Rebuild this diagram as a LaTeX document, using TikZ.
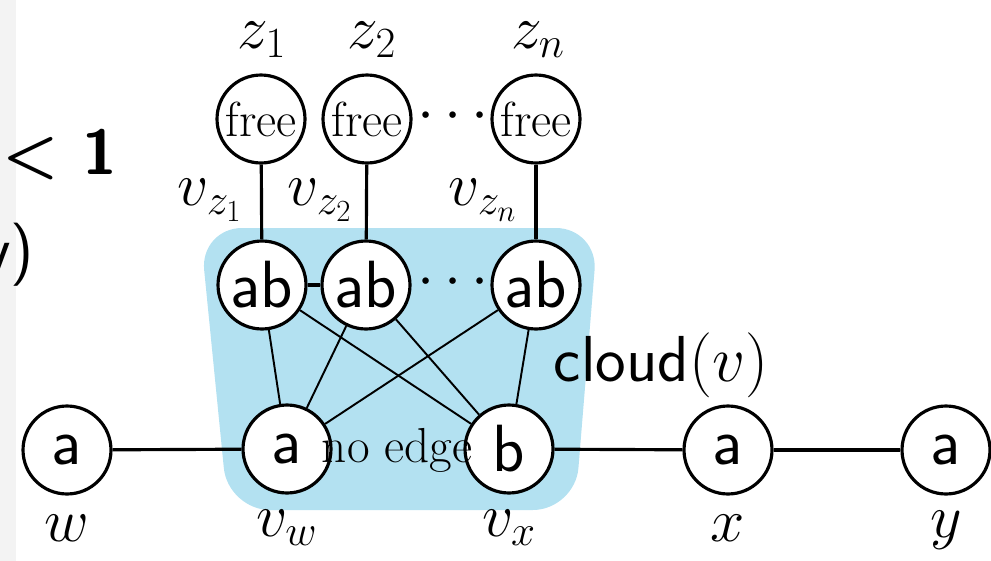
\RequirePackage{fix-cm}
\documentclass[tikz,border=0pt]{standalone}
\usepackage{fontspec}
\usetikzlibrary{positioning}
\definecolor{cloudBlue}{HTML}{B3E1F1}
\definecolor{stripGray}{HTML}{F3F3F3}

\begin{document}
\begin{tikzpicture}[x=0.02cm, y=-0.02cm,
  vtx/.style={draw, circle, fill=white, line width=1.8pt, minimum size=1.76cm,
    inner sep=0pt, font=\fontsize{38}{42}\selectfont\sffamily},
  freev/.style={vtx, font=\fontsize{28}{32}\selectfont},
  lbl/.style={font=\fontsize{35}{38}\selectfont, inner sep=0pt},
  edge/.style={line width=1.8pt},
  cross/.style={line width=1.1pt}]
  \useasboundingbox (0,0) rectangle (991,561);
  \clip (0,0) rectangle (991,561);
  \fill[stripGray] (0,0) rectangle (16,561);
  \node[anchor=east, font=\fontsize{36}{40}\selectfont\sffamily\bfseries] (lt) at (123,155) {< 1};
  \node[anchor=east, font=\fontsize{36}{40}\selectfont\sffamily] (rp) at (40,255) {v)};

  % cloud of v
  \fill[cloudBlue, rounded corners=24pt] (200,228) -- (598,228) -- (575,510) -- (228,510) -- cycle;

  \node[freev] (fz1) at (261,119) {free};
  \node[freev] (fz2) at (367,119) {free};
  \node[freev] (fzn) at (536,119) {free};
  \node[lbl] (dt1) at (453,117) {$\cdots$};
  \node[lbl] (z1) at (262,40) {$z_1$};
  \node[lbl] (z2) at (372,40) {$z_2$};
  \node[lbl] (zn) at (538,40) {$z_n$};

  \node[vtx] (ab1) at (262,285) {ab};
  \node[vtx] (ab2) at (366,285) {ab};
  \node[vtx] (abn) at (536,285) {ab};
  \node[lbl] (dt2) at (453,283) {$\cdots$};
  \node[lbl] (lz1) at (210,200) {$v_{z_1}$};
  \node[lbl] (lz2) at (320,200) {$v_{z_2}$};
  \node[lbl] (lzn) at (483,200) {$v_{z_n}$};

  \node[vtx] (w) at (67,450) {a};
  \node[vtx] (vw) at (287,449) {a};
  \node[vtx] (vx) at (509,449) {b};
  \node[vtx] (x) at (728,450) {a};
  \node[vtx] (y) at (946,450) {a};
  \node[lbl] (lw) at (67,528) {$w$};
  \node[lbl] (lvw) at (287,528) {$v_w$};
  \node[lbl] (lvx) at (509,528) {$v_x$};
  \node[lbl] (lx) at (728,528) {$x$};
  \node[lbl] (ly) at (946,530) {$y$};
  \node[font=\fontsize{37}{40}\selectfont\sffamily] (cl) at (661,365) {cloud$(v)$};

  \draw[edge] (fz1) -- (ab1);
  \draw[edge] (fz2) -- (ab2);
  \draw[edge] (fzn) -- (abn);
  \draw[edge] (ab1) -- (ab2);
  \foreach \t in {ab1,ab2,abn}{
    \draw[cross] (\t) -- (vw);
    \draw[cross] (\t) -- (vx);
  }
  \draw[edge] (w) -- (vw);
  \draw[edge] (vx) -- (x);
  \draw[edge] (x) -- (y);

  \node[font=\fontsize{28}{32}\selectfont, inner sep=0pt] (ne) at (397,450) {no edge};
\end{tikzpicture}
\end{document}
